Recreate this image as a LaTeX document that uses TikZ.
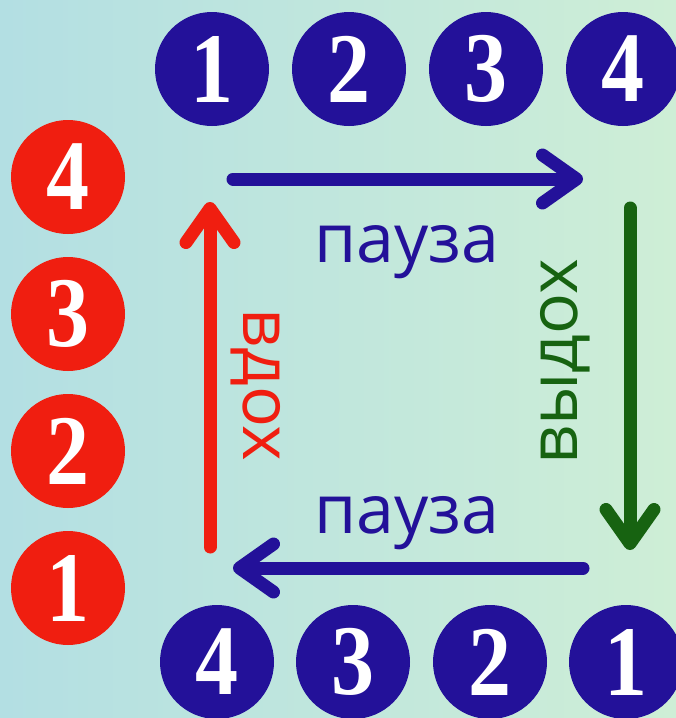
\documentclass[tikz,border=0pt]{standalone}
\usepackage{fontspec}
\usepackage{graphicx}
\setmainfont{Liberation Serif}
\newfontfamily\labelfont{Open Sans}
\usetikzlibrary{arrows.meta}
\definecolor{bgleft}{HTML}{B3DFE3}
\definecolor{bgright}{HTML}{CEEED6}
\definecolor{dblue}{HTML}{231199}
\definecolor{rred}{HTML}{F01E10}
\definecolor{dgreen}{HTML}{176311}
\newcommand{\dg}[1]{\scalebox{0.86}[1]{#1}}
\tikzset{
  numc/.style={circle, minimum size=114pt, inner sep=0pt, text=white,
    font=\fontsize{100}{100}\selectfont\bfseries},
  bluec/.style={numc, fill=dblue},
  redc/.style={numc, fill=rred},
  arr/.style={line width=13pt, line cap=round,
    -{Straight Barb[length=34pt, width=48pt, round]}},
  lbl/.style={font=\labelfont\fontsize{68}{68}\selectfont, inner sep=0pt, anchor=base}
}
\begin{document}
\begin{tikzpicture}[x=1pt, y=-1pt]
\shade[left color=bgleft, right color=bgright] (0,0) rectangle (676,718);
\useasboundingbox (0,0) rectangle (676,718);
% top row
\node[bluec] (t1) at (212,69) {\dg{1}};
\node[bluec] (t2) at (349,69) {\dg{2}};
\node[bluec] (t3) at (486,69) {\dg{3}};
\node[bluec] (t4) at (623,69) {\dg{4}};
% bottom row
\node[bluec] (b4) at (217,662) {\dg{4}};
\node[bluec] (b3) at (353,662) {\dg{3}};
\node[bluec] (b2) at (490,662) {\dg{2}};
\node[bluec] (b1) at (626,662) {\dg{1}};
% left column
\node[redc] (l4) at (68,177) {\dg{4}};
\node[redc] (l3) at (68,314) {\dg{3}};
\node[redc] (l2) at (68,451) {\dg{2}};
\node[redc] (l1) at (68,588) {\dg{1}};
% arrow ends
\coordinate (ta) at (233,179);
\coordinate (tb) at (583,179);
\coordinate (ga) at (630,208);
\coordinate (gb) at (630,550);
\coordinate (ba) at (583,568);
\coordinate (bb) at (233,568);
\coordinate (ra) at (210,547);
\coordinate (rb) at (210,202);
\draw[arr, dblue] (ta) -- (tb);
\draw[arr, dgreen] (ga) -- (gb);
\draw[arr, dblue] (ba) -- (bb);
\draw[arr, rred] (ra) -- (rb);
% labels
\node[lbl, text=dblue] (p1) at (407,262) {пауза};
\node[lbl, text=dblue] (p2) at (407,533) {пауза};
\node[lbl, text=rred, rotate=-90] (vd) at (243,385) {вдох};
\node[lbl, text=dgreen, rotate=90] (vyd) at (577,362) {выдох};
\end{tikzpicture}
\end{document}
